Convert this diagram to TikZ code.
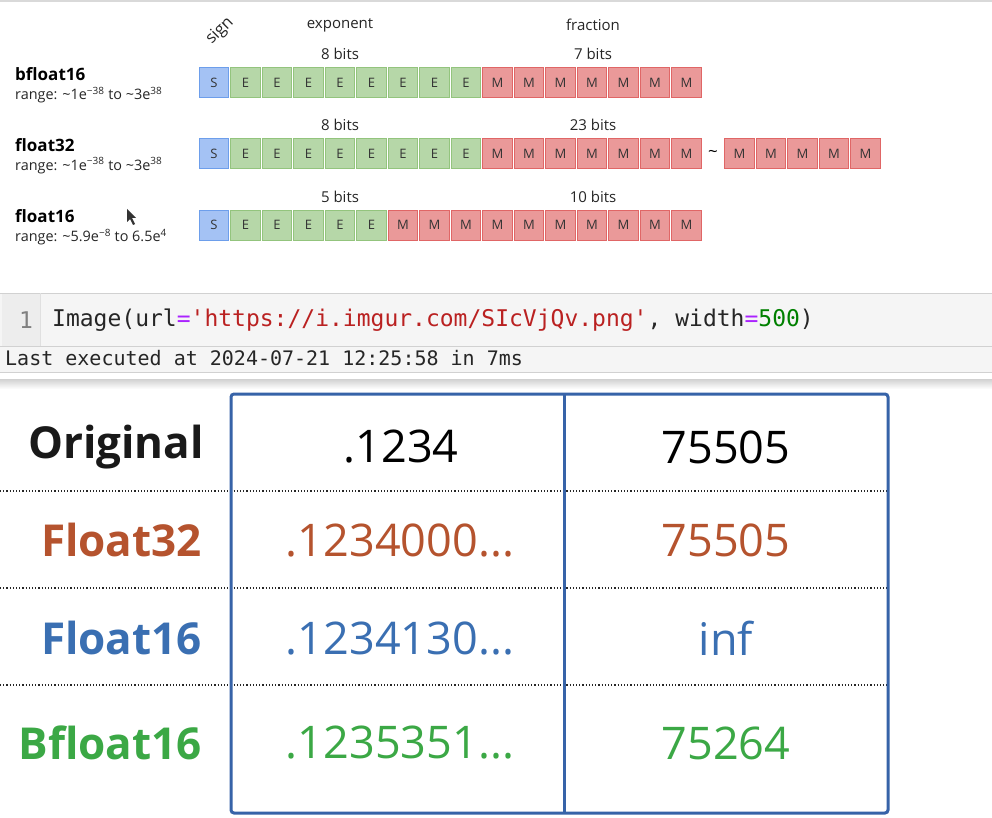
\documentclass[tikz,border=0pt]{standalone}
\usepackage{fontspec}
\setmainfont{Open Sans}
\setmonofont{DejaVu Sans Mono}
\usetikzlibrary{shapes}
\usetikzlibrary{arrows}
\definecolor{signfill}{HTML}{A4C2F4}
\definecolor{signline}{HTML}{6D9EEB}
\definecolor{expfill}{HTML}{B6D7A8}
\definecolor{expline}{HTML}{93C47D}
\definecolor{manfill}{HTML}{EA9999}
\definecolor{manline}{HTML}{E06666}
\definecolor{tblue}{HTML}{3763A8}
\definecolor{fbrown}{HTML}{B5532E}
\definecolor{fblue}{HTML}{3A6FB2}
\definecolor{fgreen}{HTML}{3BA845}
\definecolor{kwpurple}{HTML}{AA22FF}
\definecolor{strred}{HTML}{BA2121}
\definecolor{numgreen}{HTML}{008000}

\begin{document}
\begin{tikzpicture}[x=1pt,y=-1pt]
				\tikzstyle{bit}=[rectangle,draw,line width=0.8pt,minimum width=29.5pt,minimum height=30pt,inner sep=0pt,text=black!80,font=\fontsize{13}{13}\selectfont]
				\tikzstyle{sbit}=[bit,fill=signfill,draw=signline]
				\tikzstyle{ebit}=[bit,fill=expfill,draw=expline]
				\tikzstyle{mbit}=[bit,fill=manfill,draw=manline]
				\tikzstyle{head}=[font=\fontsize{15}{15}\selectfont,text=black!85]
				\tikzstyle{fmt}=[anchor=west,inner sep=0pt,font=\bfseries\fontsize{17}{17}\selectfont]
				\tikzstyle{rng}=[anchor=west,inner sep=0pt,font=\fontsize{14.4}{14.4}\selectfont,text=black!85]
				\tikzstyle{rowlab}=[anchor=east,inner sep=0pt,font=\bfseries\fontsize{44}{44}\selectfont]
				\tikzstyle{cell}=[inner sep=0pt,font=\fontsize{45}{45}\selectfont]
				
				\useasboundingbox (0,0) rectangle (992,818);
				\fill[white] (0,0) rectangle (992,818);
				\draw[black!15,line width=2pt] (0,1) -- (992,1);
				
				% bit layouts
				\node[head,font=\fontsize{16.5}{16.5}\selectfont,rotate=45,inner sep=1pt] (sign) at (220,31) {sign};
				\node[head] (exponent) at (340,25) {exponent};
				\node[head] (fraction) at (593,25) {fraction};
				\foreach \row/\y/\ne/\eb/\mb in {bf/82.5/8/8 bits/7 bits, ff/153.5/8/8 bits/23 bits, hf/225/5/5 bits/10 bits}{
					\node[sbit] (\row-0) at (214,\y) {S};
					\foreach \i in {1,...,15}{
						\ifnum\i>\ne
							\node[mbit] (\row-\i) at ({214+31.5*\i},\y) {M};
						\else
							\node[ebit] (\row-\i) at ({214+31.5*\i},\y) {E};
						\fi
					}
					\node[head] (\row-eb) at (340,\y-28.5) {\eb};
					\node[head] (\row-mb) at (593,\y-28.5) {\mb};
				}
				\node[font=\fontsize{17}{17}\selectfont] (tilde) at (713,153.5) {\textasciitilde};
				\foreach \i in {0,...,4}
					\node[mbit] (ff-x\i) at ({739.5+31.5*\i},153.5) {M};
				
				\node[fmt] (bf-name) at (15,74) {bfloat16};
				\node[rng] (bf-range) at (15,95) {range: \textasciitilde1e\textsuperscript{−38} to \textasciitilde3e\textsuperscript{38}};
				\node[fmt] (ff-name) at (15,145) {float32};
				\node[rng] (ff-range) at (15,165.5) {range: \textasciitilde1e\textsuperscript{−38} to \textasciitilde3e\textsuperscript{38}};
				\node[fmt] (hf-name) at (15,216) {float16};
				\node[rng] (hf-range) at (15,237) {range: \textasciitilde5.9e\textsuperscript{−8} to 6.5e\textsuperscript{4}};
				% pointer
				\fill[black!80] (127,209) -- (127,222) -- (130,219) -- (133,225) -- (135,224) -- (132,218) -- (136,218) -- cycle;
				
				% notebook cell
				\fill[black!4] (0,293) rectangle (992,372);
				\fill[black!7] (2,293) rectangle (40,346);
				\draw[black!18] (0,293) -- (992,293);
				\draw[black!18] (0,346) -- (992,346);
				\draw[black!18] (0,372) -- (992,372);
				\draw[black!12] (40,293) -- (40,346);
				\shade[top color=black!18,bottom color=white] (0,379) rectangle (992,389);
				\node[anchor=center,inner sep=0pt,font=\ttfamily\fontsize{23}{23}\selectfont,text=black!50] (lineno) at (26,320) {1};
				\node[anchor=west,inner sep=0pt,font=\ttfamily\fontsize{23}{23}\selectfont,text=black!85] (code) at (52,320) {Image(url\textcolor{kwpurple}{=}\textcolor{strred}{'https://i.imgur.com/SIcVjQv.png'}, width\textcolor{kwpurple}{=}\textcolor{numgreen}{500})};
				\node[anchor=west,inner sep=0pt,font=\ttfamily\fontsize{20}{20}\selectfont,text=black!85] (stamp) at (5,358.5) {Last executed at 2024-07-21 12:25:58 in 7ms};
				
				% comparison table
				\draw[black!85,dotted,line width=1.2pt] (0,491) -- (889,491);
				\draw[black!85,dotted,line width=1.2pt] (0,588) -- (889,588);
				\draw[black!85,dotted,line width=1.2pt] (0,685) -- (889,685);
				\draw[tblue,line width=3pt,rounded corners=3pt] (231,394) rectangle (888,813);
				\draw[tblue,line width=3pt] (564,394) -- (564,813);
				
				\node[rowlab,text=black!90] (orig) at (204,447) {Original};
				\node[rowlab,text=fbrown] (f32) at (202,540) {Float32};
				\node[rowlab,text=fblue] (f16) at (202,638) {Float16};
				\node[rowlab,text=fgreen] (bf16) at (202,743) {Bfloat16};
				\node[cell,text=black] (orig-a) at (401,447) {.1234};
				\node[cell,text=black] (orig-b) at (726,447) {75505};
				\node[cell,text=fbrown] (f32-a) at (400,540) {.1234000...};
				\node[cell,text=fbrown] (f32-b) at (726,540) {75505};
				\node[cell,text=fblue] (f16-a) at (400,638) {.1234130...};
				\node[cell,text=fblue] (f16-b) at (726,638) {inf};
				\node[cell,text=fgreen] (bf16-a) at (400,743) {.1235351...};
				\node[cell,text=fgreen] (bf16-b) at (726,743) {75264};
				
				\end{tikzpicture}
\end{document}
